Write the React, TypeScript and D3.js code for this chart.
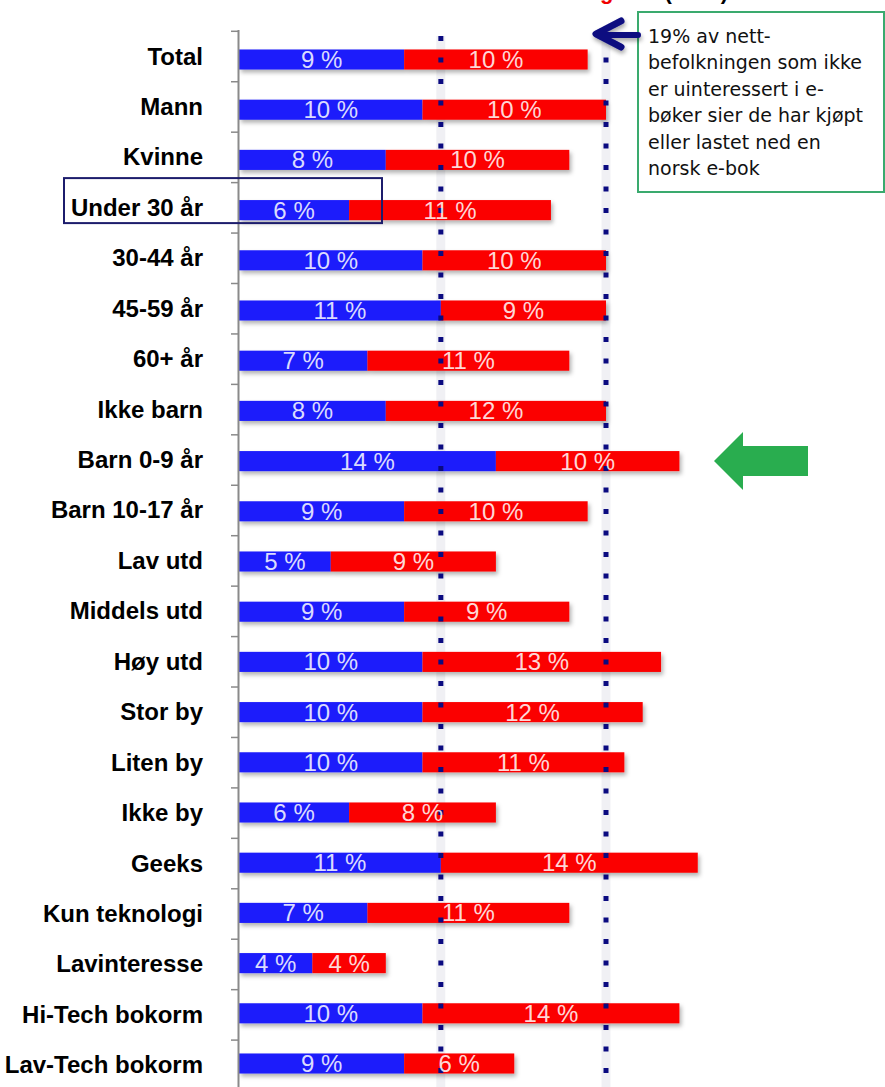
import React from "react";
import * as d3 from "d3";

const categories = [
  "Total", "Mann", "Kvinne", "Under 30 år", "30-44 år", "45-59 år", "60+ år",
  "Ikke barn", "Barn 0-9 år", "Barn 10-17 år", "Lav utd", "Middels utd", "Høy utd",
  "Stor by", "Liten by", "Ikke by", "Geeks", "Kun teknologi", "Lavinteresse",
  "Hi-Tech bokorm", "Lav-Tech bokorm",
];
const blueValues = [9, 10, 8, 6, 10, 11, 7, 8, 14, 9, 5, 9, 10, 10, 10, 6, 11, 7, 4, 10, 9];
const redValues = [10, 10, 10, 11, 10, 9, 11, 12, 10, 10, 9, 9, 13, 12, 11, 8, 14, 11, 4, 14, 6];
const referenceLines = [11, 20];
const noteLines = [
  "19% av nett-",
  "befolkningen som ikke",
  "er uinteressert i e-",
  "bøker sier de har kjøpt",
  "eller lastet ned en",
  "norsk e-bok",
];
const titleRed = "Lastet ned gratis";
const titleBlack = "(2013)";
const highlightCategory = "Under 30 år";
const arrowCategory = "Barn 0-9 år";

const W = 885;
const H = 1087;

export default function App() {
  const x = d3.scaleLinear().domain([0, 20]).range([239, 606]);
  const yBar = d3.scaleBand<string>().domain(categories).range([34.4, 1088.6]).paddingInner(0.6).paddingOuter(0.3);
  const yAxis = d3.scaleBand<string>().domain(categories).range([31.3, 31.3 + 50.44 * categories.length]);

  const blue = "#1e1efb";
  const red = "#fb0000";
  const navy = "#0a0a80";

  const hy = yBar(highlightCategory)! + yBar.bandwidth() / 2;
  const ay = yBar(arrowCategory)! + yBar.bandwidth() / 2;

  return (
    <svg width={W} height={H} style={{ position: "absolute", left: 0, top: 0, display: "block", background: "#fff" }}>
      <defs>
        <filter id="shadow" x="-5%" y="-40%" width="110%" height="200%">
          <feDropShadow dx="2" dy="3" stdDeviation="2" floodColor="#000" floodOpacity="0.3" />
        </filter>
        <filter id="ashadow" x="-30%" y="-50%" width="160%" height="200%">
          <feDropShadow dx="1" dy="3" stdDeviation="2" floodColor="#000" floodOpacity="0.35" />
        </filter>
      </defs>
      <rect width={W} height={H} fill="#fff" />

      {/* title (cut off at top, as in the reference) */}
      <text x={660} y={-1} textAnchor="end" fontFamily="Liberation Sans, Arial, sans-serif" fontWeight="bold" fontSize={22} fill="#f00000">{titleRed}</text>
      <text x={728} y={-1} textAnchor="end" fontFamily="Liberation Sans, Arial, sans-serif" fontWeight="bold" fontSize={22} fill="#000">{titleBlack}</text>

      {/* reference dotted lines shadow */}
      {referenceLines.map((v) => (
        <line key={"s" + v} x1={x(v)} x2={x(v)} y1={36} y2={H} stroke="#dcdce4" strokeWidth={9} opacity={0.4} />
      ))}

      {/* bars */}
      {categories.map((c, i) => {
        const y0 = yBar(c)!;
        const bh = yBar.bandwidth();
        const b = blueValues[i];
        const r = redValues[i];
        return (
          <g key={c} filter="url(#shadow)">
            <rect x={x(0)} y={y0} width={x(b) - x(0)} height={bh} fill={blue} />
            <rect x={x(b)} y={y0} width={x(b + r) - x(b)} height={bh} fill={red} />
          </g>
        );
      })}

      {/* dotted lines */}
      {referenceLines.map((v) => (
        <line key={"d" + v} x1={x(v)} x2={x(v)} y1={36} y2={H} stroke={navy} strokeWidth={5} strokeDasharray="5 16.5" />
      ))}

      {/* value labels */}
      {categories.map((c, i) => {
        const cy = yBar(c)! + yBar.bandwidth() / 2;
        const b = blueValues[i];
        const r = redValues[i];
        return (
          <g key={"l" + c} fontFamily="Liberation Sans, Arial, sans-serif" fontSize={24} fill="#fff" fillOpacity={0.85} textAnchor="middle">
            <text x={(x(0) + x(b)) / 2} y={cy + 8.5}>{b} %</text>
            <text x={(x(b) + x(b + r)) / 2} y={cy + 8.5}>{r} %</text>
          </g>
        );
      })}

      {/* axis */}
      <line x1={238.5} x2={238.5} y1={30} y2={H} stroke="#8a8a8a" strokeWidth={2} />
      {categories.map((c) => (
        <line key={"t" + c} x1={231} x2={239} y1={yAxis(c)!} y2={yAxis(c)!} stroke="#8a8a8a" strokeWidth={1.5} />
      ))}
      {categories.map((c) => (
        <text key={"c" + c} x={203} y={yAxis(c)! + yAxis.bandwidth() / 2 + 8} textAnchor="end"
          fontFamily="Liberation Sans, Arial, sans-serif" fontWeight="bold" fontSize={24} fill="#000">{c}</text>
      ))}

      {/* highlight box */}
      <rect x={64} y={hy - 32} width={318} height={45} fill="none" stroke="#1c1c6c" strokeWidth={2} />

      {/* green arrow */}
      <path d={`M714,${ay} L743,${ay - 29} L743,${ay - 15} L808,${ay - 15} L808,${ay + 15} L743,${ay + 15} L743,${ay + 29} Z`} fill="#29ad4f" />

      {/* annotation box */}
      <rect x={638} y={12} width={246} height={180} fill="#fff" stroke="#3aaa6e" strokeWidth={2} />
      {noteLines.map((t, i) => (
        <text key={t} x={648} y={43 + i * 26.4} fontFamily="DejaVu Sans, sans-serif" fontSize={19} fill="#111">{t}</text>
      ))}

      {/* navy arrow */}
      <g filter="url(#ashadow)" stroke={navy} fill="none" strokeLinecap="round" strokeLinejoin="round">
        <line x1={638} y1={35} x2={600} y2={35} strokeWidth={6} />
        <polyline points="621,21 596,34 621,47" strokeWidth={7} />
      </g>
    </svg>
  );
}
